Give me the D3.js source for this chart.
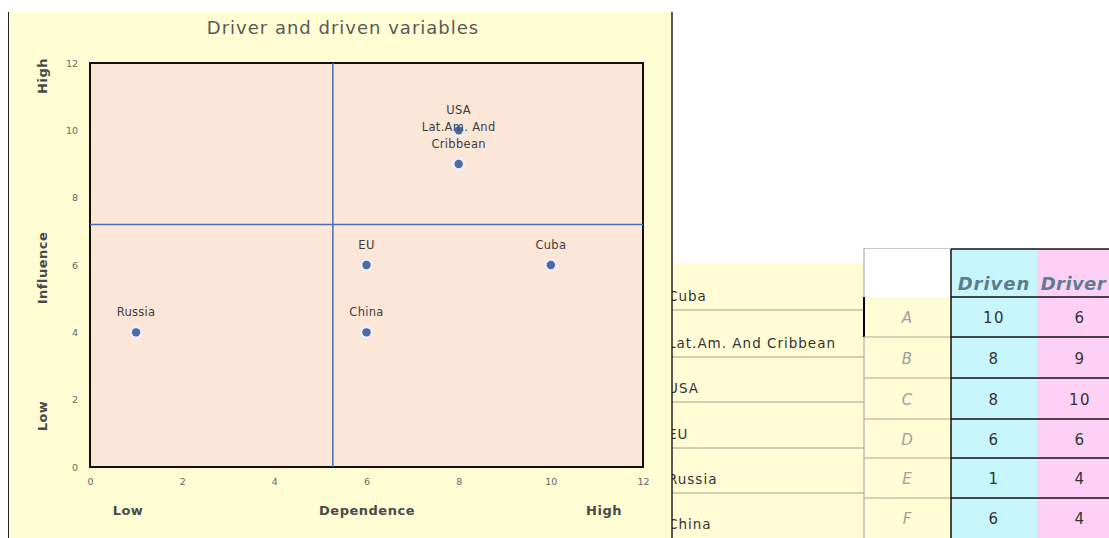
<!DOCTYPE html>
<html><head><meta charset="utf-8">
<script src="https://cdn.jsdelivr.net/npm/d3@7"></script>
<style>html,body{margin:0;padding:0;background:#fff;overflow:hidden}</style>
</head><body>
<svg id="c" width="1109" height="538"></svg>
<script>
// ---- data ----
const countries = ["Cuba", "Lat.Am. And Cribbean", "USA", "EU", "Russia", "China"];
const pointLabels = ["Cuba", "Lat.Am. And\nCribbean", "USA", "EU", "Russia", "China"];
const letters = ["A", "B", "C", "D", "E", "F"];
const driven = [10, 8, 8, 6, 1, 6];   // Dependence (x)
const driver = [6, 9, 10, 6, 4, 4];   // Influence (y)
const xTicks = [0, 2, 4, 6, 8, 10, 12];
const yTicks = [0, 2, 4, 6, 8, 10, 12];
const quadX = 5.27, quadY = 7.2;
const headers = ["Driven", "Driver"];

const svg = d3.select("#c");
const font = "DejaVu Sans, Verdana, sans-serif";

// ---- table (drawn first, chart overlaps its left edge) ----
const T = svg.append("g");
const nameRowsY = [263, 310, 357, 402, 448, 493, 538];
const valRowsY = [297, 337, 378, 419, 458, 498, 538];
T.append("rect").attr("x", 660).attr("y", 263).attr("width", 204).attr("height", 275).attr("fill", "#fffcd6");
for (let i = 0; i < 5; i++) T.append("line").attr("x1", 672).attr("x2", 864)
  .attr("y1", nameRowsY[i+1]).attr("y2", nameRowsY[i+1]).attr("stroke", "#a0a090").attr("stroke-width", 1);
countries.forEach((n, i) => T.append("text").attr("x", 668).attr("y", nameRowsY[i+1] - 9)
  .attr("font-family", font).attr("font-size", 13.5).attr("letter-spacing", 1).attr("fill", "#333").text(n));
// letter column
T.append("rect").attr("x", 864).attr("y", 297).attr("width", 87).attr("height", 241).attr("fill", "#fffcd6");
T.append("line").attr("x1", 864).attr("x2", 951).attr("y1", 248.5).attr("y2", 248.5).attr("stroke", "#c8c8c8");
T.append("line").attr("x1", 864).attr("x2", 864).attr("y1", 248).attr("y2", 538).attr("stroke", "#a0a0a0");
T.append("line").attr("x1", 864).attr("x2", 864).attr("y1", 297).attr("y2", 337).attr("stroke", "#000").attr("stroke-width", 2);
for (let i = 1; i < 6; i++) T.append("line").attr("x1", 864).attr("x2", 951)
  .attr("y1", valRowsY[i]).attr("y2", valRowsY[i]).attr("stroke", "#a8a898");
letters.forEach((l, i) => T.append("text").attr("x", 907).attr("y", (valRowsY[i] + valRowsY[i+1]) / 2 + 6)
  .attr("text-anchor", "middle").attr("font-family", font).attr("font-style", "italic")
  .attr("font-size", 15).attr("fill", "#a0a0a0").text(l));
// value columns
const colX = [951, 1037, 1123];
const colFill = ["#c8f6fd", "#fdd0f6"];
const cols = [driven, driver];
cols.forEach((vals, c) => {
  T.append("rect").attr("x", colX[c]).attr("y", 249).attr("width", colX[c+1] - colX[c]).attr("height", 289).attr("fill", colFill[c]);
  const h = T.append("text").attr("y", 290)
    .attr("font-family", font).attr("font-weight", "bold").attr("font-style", "italic")
    .attr("font-size", 18).attr("fill", "#5b7d8f").text(headers[c]);
  if (c === 0) h.attr("x", (colX[c] + colX[c+1]) / 2).attr("text-anchor", "middle").attr("letter-spacing", 1);
  else h.attr("x", 1106).attr("text-anchor", "end").attr("letter-spacing", 0.4);
  vals.forEach((v, i) => T.append("text").attr("x", (colX[c] + colX[c+1]) / 2)
    .attr("y", (valRowsY[i] + valRowsY[i+1]) / 2 + 6).attr("text-anchor", "middle")
    .attr("font-family", font).attr("font-size", 15).attr("letter-spacing", 1.5).attr("fill", "#333").text(v));
});
[249, 297, 337, 378, 419, 458, 498].forEach(y => T.append("line").attr("x1", 951).attr("x2", 1109)
  .attr("y1", y).attr("y2", y).attr("stroke", "#111").attr("stroke-width", 1.5));
T.append("line").attr("x1", 951).attr("x2", 951).attr("y1", 249).attr("y2", 538).attr("stroke", "#111").attr("stroke-width", 1.5);

// ---- chart ----
const G = svg.append("g");
G.append("rect").attr("x", 8).attr("y", 12).attr("width", 664).attr("height", 530).attr("fill", "#fffdd3");
G.append("line").attr("x1", 8.5).attr("x2", 8.5).attr("y1", 12).attr("y2", 538).attr("stroke", "#222");
G.append("line").attr("x1", 672).attr("x2", 672).attr("y1", 12).attr("y2", 538).attr("stroke", "#222").attr("stroke-width", 1.5);

const x = d3.scaleLinear().domain([0, 12]).range([90, 643]);
const y = d3.scaleLinear().domain([0, 12]).range([467, 63]);

G.append("text").attr("x", 343).attr("y", 34).attr("text-anchor", "middle")
  .attr("font-family", font).attr("font-size", 18).attr("letter-spacing", 1).attr("fill", "#595959").text("Driver and driven variables");

G.append("rect").attr("x", x(0)).attr("y", y(12)).attr("width", x(12) - x(0)).attr("height", y(0) - y(12))
  .attr("fill", "#fce6d8").attr("stroke", "#111").attr("stroke-width", 2);

// axes (tick labels only)
const xa = G.append("g").attr("transform", `translate(0,${y(0) + 11})`)
  .call(d3.axisBottom(x).tickValues(xTicks).tickSize(0).tickPadding(0));
const ya = G.append("g").attr("transform", `translate(${x(0) - 12},0)`)
  .call(d3.axisLeft(y).tickValues(yTicks).tickSize(0).tickPadding(0));
[xa, ya].forEach(a => {
  a.select(".domain").remove();
  a.selectAll("text").attr("font-family", font).attr("font-size", 9.5).attr("fill", "#666");
});

// quadrant lines
G.append("line").attr("x1", x(quadX)).attr("x2", x(quadX)).attr("y1", y(12)).attr("y2", y(0))
  .attr("stroke", "#4a6db3").attr("stroke-width", 1.5);
G.append("line").attr("x1", x(0)).attr("x2", x(12)).attr("y1", y(quadY)).attr("y2", y(quadY))
  .attr("stroke", "#4a6db3").attr("stroke-width", 1.5);

// points
const pts = countries.map((c, i) => ({ label: pointLabels[i], x: driven[i], y: driver[i] }));
G.selectAll("circle.halo").data(pts).join("circle").attr("class", "halo")
  .attr("cx", d => x(d.x)).attr("cy", d => y(d.y)).attr("r", 7).attr("fill", "#eef0f8").attr("opacity", 0.8);
G.selectAll("circle.pt").data(pts).join("circle").attr("class", "pt")
  .attr("cx", d => x(d.x)).attr("cy", d => y(d.y)).attr("r", 4.2).attr("fill", "#4a6aa8");
pts.forEach(d => {
  const lines = d.label.split("\n");
  const t = G.append("text").attr("text-anchor", "middle").attr("font-family", font)
    .attr("font-size", 11.5).attr("letter-spacing", 0.3).attr("fill", "#404040");
  lines.forEach((ln, k) => t.append("tspan").attr("x", x(d.x))
    .attr("y", y(d.y) - 16 - (lines.length - 1 - k) * 17).text(ln));
});

// axis titles
const lab = (tx, ty, s, rot) => G.append("text").attr("transform", `translate(${tx},${ty}) rotate(${rot})`)
  .attr("text-anchor", "middle").attr("font-family", font).attr("font-size", 13).attr("font-weight", "bold")
  .attr("letter-spacing", 0.5).attr("fill", "#4a4a4a").text(s);
lab(128, 515, "Low", 0);
lab(367, 515, "Dependence", 0);
lab(604, 515, "High", 0);
lab(47, 76, "High", -90);
lab(47, 268, "Influence", -90);
lab(47, 416, "Low", -90);
</script>
</body></html>
